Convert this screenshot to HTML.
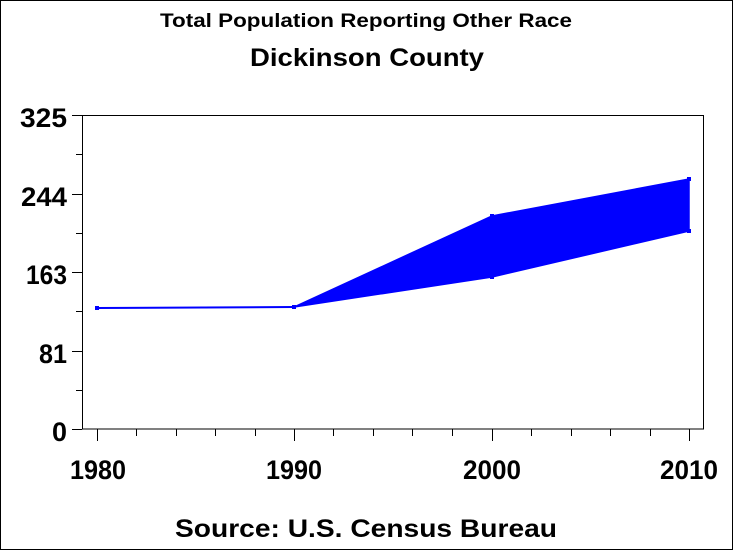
<!DOCTYPE html>
<html><head><style>
html,body{margin:0;padding:0;background:#fff;}
svg{display:block;}
text{font-family:"Liberation Sans",Arial,sans-serif;fill:#000;font-weight:bold;}
</style></head><body>
<svg width="733" height="550" viewBox="0 0 733 550" xmlns="http://www.w3.org/2000/svg">
<rect x="0.5" y="0.5" width="732" height="549" fill="#fff" stroke="#000" stroke-width="1"/>
<text x="160" y="27" font-size="19" textLength="412" lengthAdjust="spacingAndGlyphs">Total Population Reporting Other Race</text>
<text x="250" y="66" font-size="25" textLength="234" lengthAdjust="spacingAndGlyphs">Dickinson County</text>
<text x="175" y="537" font-size="25" textLength="382" lengthAdjust="spacingAndGlyphs">Source: U.S. Census Bureau</text>
<rect x="82.5" y="115.5" width="621" height="313.5" fill="none" stroke="#000" stroke-width="1"/>
<g stroke="#000" stroke-width="1">
<line x1="72" y1="115.5" x2="82" y2="115.5"/>
<line x1="76" y1="154.5" x2="82" y2="154.5"/>
<line x1="72" y1="194.5" x2="82" y2="194.5"/>
<line x1="76" y1="233.5" x2="82" y2="233.5"/>
<line x1="72" y1="272.5" x2="82" y2="272.5"/>
<line x1="76" y1="311.5" x2="82" y2="311.5"/>
<line x1="72" y1="351.5" x2="82" y2="351.5"/>
<line x1="76" y1="390.5" x2="82" y2="390.5"/>
<line x1="72" y1="429.5" x2="82" y2="429.5"/>
</g>
<g font-size="27">
<text x="20" y="127" textLength="47" lengthAdjust="spacingAndGlyphs">325</text>
<text x="21" y="206" textLength="46" lengthAdjust="spacingAndGlyphs">244</text>
<text x="26" y="284" textLength="41" lengthAdjust="spacingAndGlyphs">163</text>
<text x="39" y="363" textLength="28" lengthAdjust="spacingAndGlyphs">81</text>
<text x="52" y="441" textLength="15" lengthAdjust="spacingAndGlyphs">0</text>
</g>
<g stroke="#000" stroke-width="1">
<line x1="97.5" y1="429" x2="97.5" y2="441"/>
<line x1="136.5" y1="429" x2="136.5" y2="436"/>
<line x1="176.5" y1="429" x2="176.5" y2="436"/>
<line x1="215.5" y1="429" x2="215.5" y2="436"/>
<line x1="255.5" y1="429" x2="255.5" y2="436"/>
<line x1="294.5" y1="429" x2="294.5" y2="441"/>
<line x1="333.5" y1="429" x2="333.5" y2="436"/>
<line x1="373.5" y1="429" x2="373.5" y2="436"/>
<line x1="412.5" y1="429" x2="412.5" y2="436"/>
<line x1="452.5" y1="429" x2="452.5" y2="436"/>
<line x1="492.5" y1="429" x2="492.5" y2="441"/>
<line x1="531.5" y1="429" x2="531.5" y2="436"/>
<line x1="571.5" y1="429" x2="571.5" y2="436"/>
<line x1="610.5" y1="429" x2="610.5" y2="436"/>
<line x1="650.5" y1="429" x2="650.5" y2="436"/>
<line x1="689.5" y1="429" x2="689.5" y2="441"/>
</g>
<g font-size="27">
<text x="70" y="479" textLength="56" lengthAdjust="spacingAndGlyphs">1980</text>
<text x="266" y="479" textLength="56" lengthAdjust="spacingAndGlyphs">1990</text>
<text x="463" y="479" textLength="58" lengthAdjust="spacingAndGlyphs">2000</text>
<text x="660" y="479" textLength="58" lengthAdjust="spacingAndGlyphs">2010</text>
</g>
<polyline points="97,308 294,307" fill="none" stroke="#00f" stroke-width="2"/>
<polygon points="294,307 492,216 689,179 689,231 492,277" fill="#00f" stroke="#00f" stroke-width="1.5"/>
<g fill="#00f">
<rect x="95" y="306" width="4" height="4"/>
<rect x="292" y="305" width="4" height="4"/>
<rect x="490" y="214" width="4" height="4"/>
<rect x="490" y="275" width="4" height="4"/>
<rect x="687" y="177" width="4" height="4"/>
<rect x="687" y="229" width="4" height="4"/>
</g>
</svg>
</body></html>
